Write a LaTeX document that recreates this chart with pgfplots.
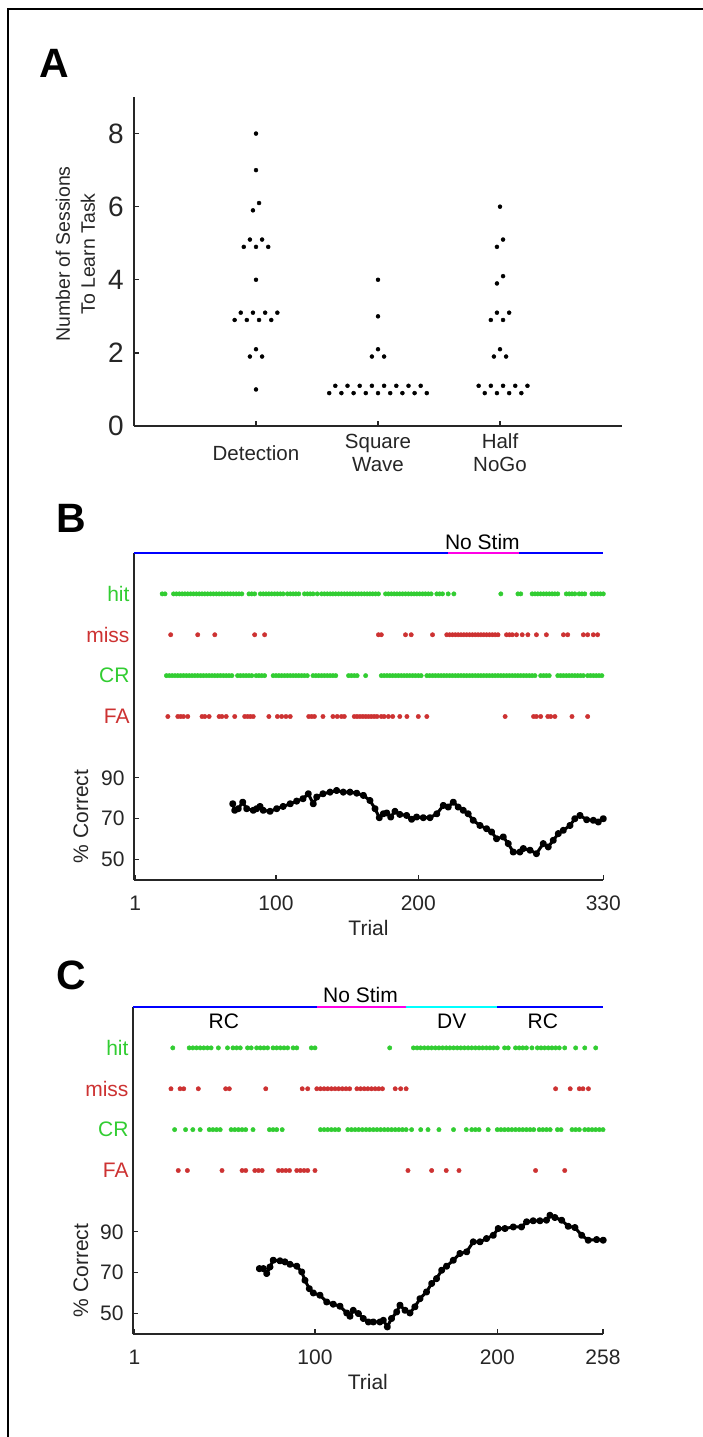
\documentclass[border=0pt]{standalone}
\usepackage{fontspec}
\setmainfont{Liberation Sans}
\usepackage{pgfplots}
\pgfplotsset{compat=1.18}
\definecolor{axgray}{RGB}{38,38,38}
\definecolor{hitgreen}{RGB}{50,205,50}
\definecolor{missred}{RGB}{205,50,50}
\definecolor{nsmag}{RGB}{255,0,230}
\definecolor{lineblue}{RGB}{0,0,255}
\definecolor{linecyan}{RGB}{0,255,255}
\newcommand\fl{\fontsize{21}{25}\selectfont}
\pgfplotsset{
  mybase/.style={
    scale only axis, axis lines=left,
    axis line style={-, axgray, line width=1.8pt},
    tick style={axgray, line width=1.3pt},
    tick align=inside, major tick length=5pt,
    ticklabel style={text=axgray},
    /pgf/number format/assume math mode=true,
    clip=false,
  },
  raster/.style={
    mybase, xmin=0, ymin=40, ymax=200, ytick={50,70,90},
    xticklabel style={font=\fl, anchor=center, inner sep=0pt, yshift=-23pt},
    yticklabel style={font=\fl, anchor=east, inner sep=0pt, xshift=-9pt},
    xlabel={Trial}, xlabel style={font=\fl, text=axgray, at={(axis description cs:0.5,0)}, anchor=center, yshift=-48pt},
  },
  dotg/.style={only marks, mark=*, mark size=2.2pt, hitgreen, mark options={draw=hitgreen, fill=hitgreen}},
  dotr/.style={only marks, mark=*, mark size=2.2pt, missred, mark options={draw=missred, fill=missred}},
  curve/.style={black, line width=3pt, line join=round, mark=*, mark size=2pt},
}
\begin{document}
\begin{tikzpicture}
\useasboundingbox (0pt,0pt) rectangle (703pt,-1437pt);
\fill[white] (0pt,0pt) rectangle (703pt,-1437pt);
\draw[line width=1.2pt, black] (8pt,-1437pt) -- (8pt,-9pt) -- (703pt,-9pt);

% ---------------- Panel A ----------------
\node[font=\fontsize{41}{41}\selectfont\bfseries] at (54pt,-63pt) {A};
\begin{axis}[mybase, at={(134pt,-426pt)}, anchor=south west,
  width=488pt, height=329pt,
  axis line style={-, axgray, line width=1.5pt},
  xmin=0, xmax=4, ymin=0, ymax=9,
  xtick={1,2,3}, xticklabels={Detection,{Square\\Wave},{Half\\NoGo}},
  xticklabel style={font=\fontsize{20.5}{23}\selectfont, align=center, anchor=center, inner sep=0pt, yshift=-27pt},
  ytick={0,2,4,6,8},
  yticklabel style={font=\fontsize{28}{30}\selectfont, anchor=east, inner sep=0pt, xshift=-10pt},
]
\addplot[only marks, mark=*, mark size=2pt, black] coordinates {
(1,8)(1,7)(0.975,5.9)(1.025,6.1)(0.9,4.9)(0.95,5.1)(1,4.9)(1.05,5.1)(1.1,4.9)(1,4)
(0.825,2.9)(0.875,3.1)(0.925,2.9)(0.975,3.1)(1.025,2.9)(1.075,3.1)(1.125,2.9)(1.175,3.1)
(0.95,1.9)(1,2.1)(1.05,1.9)(1,1)};
\addplot[only marks, mark=*, mark size=2pt, black] coordinates {
(2,4)(2,3)(1.95,1.9)(2,2.1)(2.05,1.9)
(1.6,0.9)(1.65,1.1)(1.7,0.9)(1.75,1.1)(1.8,0.9)(1.85,1.1)(1.9,0.9)(1.95,1.1)(2,0.9)
(2.05,1.1)(2.1,0.9)(2.15,1.1)(2.2,0.9)(2.25,1.1)(2.3,0.9)(2.35,1.1)(2.4,0.9)};
\addplot[only marks, mark=*, mark size=2pt, black] coordinates {
(3,6)(2.975,4.9)(3.025,5.1)(2.975,3.9)(3.025,4.1)
(2.925,2.9)(2.975,3.1)(3.025,2.9)(3.075,3.1)(2.95,1.9)(3,2.1)(3.05,1.9)
(2.825,1.1)(2.875,0.9)(2.925,1.1)(2.975,0.9)(3.025,1.1)(3.075,0.9)(3.125,1.1)(3.175,0.9)(3.225,1.1)};
\end{axis}
\node[font=\fontsize{19.5}{25}\selectfont, text=axgray, rotate=90, align=center] at (75.5pt,-254pt) {Number of Sessions\\To Learn Task};

% ---------------- Panel B ----------------
\node[font=\fontsize{41}{41}\selectfont\bfseries] at (71.5pt,-518pt) {B};
\begin{axis}[raster, at={(133.7pt,-880pt)}, anchor=south west,
  width=469.6pt, height=327pt, xmax=330, xtick={1,100,200,330}]
\addplot[lineblue, line width=2pt] coordinates {(0,200)(221,200)};
\addplot[nsmag, line width=2pt] coordinates {(221,200)(271,200)};
\addplot[lineblue, line width=2pt] coordinates {(271,200)(330,200)};
\node[font=\fl, anchor=south, inner sep=0pt, yshift=3.5pt] at (axis cs:245,200) {No Stim};
\node[font=\fl, text=hitgreen, anchor=east, inner sep=0pt, xshift=-4pt] at (axis cs:0,180) {hit};
\node[font=\fl, text=missred, anchor=east, inner sep=0pt, xshift=-4pt] at (axis cs:0,160) {miss};
\node[font=\fl, text=hitgreen, anchor=east, inner sep=0pt, xshift=-4pt] at (axis cs:0,140) {CR};
\node[font=\fl, text=missred, anchor=east, inner sep=0pt, xshift=-4pt] at (axis cs:0,120) {FA};
% hit
\addplot[dotg] coordinates {
(20,180)(22,180)(28,180)(30,180)(32,180)(34,180)(36,180)(38,180)(40,180)(42,180)(44,180)(46,180)(48,180)(50,180)(52,180)(54,180)(56,180)(58,180)(60,180)(62,180)(64,180)(66,180)(68,180)(70,180)(72,180)(74,180)(76,180)(81,180)(83,180)(85,180)(89,180)(91,180)(93,180)(95,180)(97,180)(99,180)(101,180)(103,180)(105,180)(108,180)(110,180)(112,180)(114,180)(116,180)(120,180)(122,180)(124,180)(126,180)(129,180)(132,180)(134,180)(136,180)(138,180)(140,180)(142,180)(144,180)(146,180)(148,180)(150,180)(152,180)(154,180)(156,180)(158,180)(160,180)(162,180)(164,180)(166,180)(168,180)(170,180)(172,180)(177,180)(179,180)(181,180)(183,180)(185,180)(187,180)(189,180)(191,180)(193,180)(195,180)(197,180)(199,180)(201,180)(203,180)(205,180)(207,180)(209,180)(213,180)(215,180)(217,180)(221,180)(225,180)(258,180)(270,180)(272,180)(280,180)(282,180)(284,180)(286,180)(288,180)(290,180)(292,180)(294,180)(296,180)(298,180)(304,180)(306,180)(308,180)(310,180)(313,180)(315,180)(317,180)(322,180)(324,180)(326,180)(328,180)(330,180)};
% miss
\addplot[dotr] coordinates {
(26,160)(45,160)(57,160)(85,160)(92,160)(172,160)(174,160)(191,160)(195,160)(210,160)(220,160)(222,160)(224,160)(226,160)(228,160)(230,160)(232,160)(234,160)(236,160)(238,160)(240,160)(242,160)(244,160)(246,160)(248,160)(250,160)(252,160)(254,160)(256,160)(262,160)(264,160)(266,160)(269,160)(273,160)(277,160)(283,160)(290,160)(302,160)(305,160)(316,160)(319,160)(323,160)(326,160)};
% CR
\addplot[dotg] coordinates {
(23,140)(25,140)(27,140)(29,140)(31,140)(33,140)(35,140)(37,140)(39,140)(41,140)(43,140)(45,140)(47,140)(49,140)(51,140)(53,140)(55,140)(57,140)(59,140)(61,140)(63,140)(65,140)(67,140)(69,140)(73,140)(75,140)(77,140)(79,140)(81,140)(83,140)(86,140)(88,140)(90,140)(92,140)(98,140)(100,140)(102,140)(104,140)(106,140)(108,140)(110,140)(112,140)(114,140)(116,140)(118,140)(120,140)(122,140)(126,140)(128,140)(130,140)(132,140)(134,140)(136,140)(138,140)(140,140)(142,140)(151,140)(153,140)(155,140)(157,140)(163,140)(174,140)(176,140)(178,140)(180,140)(182,140)(184,140)(186,140)(188,140)(190,140)(192,140)(194,140)(196,140)(198,140)(200,140)(202,140)(206,140)(208,140)(210,140)(212,140)(214,140)(216,140)(218,140)(220,140)(222,140)(224,140)(226,140)(228,140)(230,140)(232,140)(234,140)(236,140)(238,140)(240,140)(242,140)(244,140)(246,140)(248,140)(250,140)(252,140)(254,140)(256,140)(258,140)(260,140)(262,140)(264,140)(266,140)(268,140)(270,140)(272,140)(274,140)(276,140)(278,140)(280,140)(282,140)(286,140)(288,140)(290,140)(292,140)(298,140)(300,140)(302,140)(304,140)(306,140)(308,140)(310,140)(312,140)(314,140)(316,140)(319,140)(321,140)(323,140)(325,140)(327,140)(329,140)};
% FA
\addplot[dotr] coordinates {
(24,120)(31,120)(33,120)(35,120)(38,120)(48,120)(50,120)(53,120)(60,120)(62,120)(65,120)(71,120)(78,120)(80,120)(82,120)(84,120)(95,120)(101,120)(104,120)(107,120)(110,120)(123,120)(125,120)(127,120)(133,120)(140,120)(143,120)(146,120)(148,120)(155,120)(157,120)(159,120)(161,120)(163,120)(165,120)(167,120)(169,120)(171,120)(174,120)(176,120)(179,120)(182,120)(187,120)(192,120)(200,120)(206,120)(261,120)(281,120)(283,120)(286,120)(291,120)(293,120)(296,120)(308,120)(319,120)};
% percent correct
\addplot[curve] coordinates {
(69.6,77.3)(71,74.1)(73.5,74.9)(76.6,78.1)(79.4,74.9)(84,74.1)(86.4,74.9)(88.8,76)(91,74.1)(95.8,73.6)(100.5,74.9)(105,76)(110,77.3)(114.5,78.6)(119,79.8)(122.7,82.2)(126.2,77.3)(128.6,80.6)(133,82.2)(138,83)(142.6,83.8)(147.3,83)(152,83)(156.7,82.5)(161.4,81.4)(166,78.9)(169.6,74.9)(172.6,70.5)(175.4,72.4)(177.8,72.8)(180.6,70.8)(183.6,73.6)(187,72.1)(191.8,71.6)(195.3,69.7)(198.8,70.8)(203.5,70.5)(208.2,70.5)(213,72.4)(217.6,76.5)(221,75.7)(224.6,78.1)(228,75.7)(231.6,74.1)(235,72.4)(238.6,69.2)(243.3,66.7)(248,65.1)(251.5,63.5)(255,60.2)(259.7,61.1)(263.2,57.8)(266.7,53.7)(271.4,53.7)(273.8,55.4)(278.5,54.6)(283,52.9)(287.8,57.8)(291.3,56.2)(294.8,59.4)(298.4,62.7)(301.9,64.3)(306.6,66.7)(310,70)(313.6,71.6)(318.3,69.5)(323,69.2)(326.5,68.4)(330,70)};
\end{axis}
\node[font=\fl, text=axgray, rotate=90] at (81pt,-816.5pt) {\% Correct};

% ---------------- Panel C ----------------
\node[font=\fontsize{41}{41}\selectfont\bfseries] at (71.5pt,-975pt) {C};
\begin{axis}[raster, at={(132.7pt,-1334pt)}, anchor=south west,
  width=470.3pt, height=327pt, xmax=258, xtick={1,100,200,258}]
\addplot[lineblue, line width=2pt] coordinates {(0,200)(101,200)};
\addplot[nsmag, line width=2pt] coordinates {(101,200)(150,200)};
\addplot[linecyan, line width=2pt] coordinates {(150,200)(200,200)};
\addplot[lineblue, line width=2pt] coordinates {(200,200)(258,200)};
\node[font=\fl, anchor=south, inner sep=0pt, yshift=4.5pt] at (axis cs:125,200) {No Stim};
\node[font=\fl, anchor=north, inner sep=0pt, yshift=-6.5pt] at (axis cs:50,200) {RC};
\node[font=\fl, anchor=north, inner sep=0pt, yshift=-6.5pt] at (axis cs:175,200) {DV};
\node[font=\fl, anchor=north, inner sep=0pt, yshift=-6.5pt] at (axis cs:225,200) {RC};
\node[font=\fl, text=hitgreen, anchor=east, inner sep=0pt, xshift=-4pt] at (axis cs:0,180) {hit};
\node[font=\fl, text=missred, anchor=east, inner sep=0pt, xshift=-4pt] at (axis cs:0,160) {miss};
\node[font=\fl, text=hitgreen, anchor=east, inner sep=0pt, xshift=-4pt] at (axis cs:0,140) {CR};
\node[font=\fl, text=missred, anchor=east, inner sep=0pt, xshift=-4pt] at (axis cs:0,120) {FA};
% hit
\addplot[dotg] coordinates {
(22,180)(31,180)(33,180)(35,180)(37,180)(39,180)(41,180)(43,180)(47,180)(52,180)(55,180)(57,180)(59,180)(63,180)(65,180)(68,180)(70,180)(72,180)(74,180)(77,180)(79,180)(81,180)(83,180)(85,180)(88,180)(90,180)(98,180)(100,180)(141,180)(154,180)(156,180)(158,180)(160,180)(162,180)(164,180)(166,180)(168,180)(170,180)(172,180)(174,180)(176,180)(178,180)(180,180)(182,180)(184,180)(186,180)(188,180)(190,180)(192,180)(194,180)(196,180)(198,180)(200,180)(204,180)(206,180)(210,180)(212,180)(214,180)(216,180)(219,180)(222,180)(224,180)(226,180)(228,180)(230,180)(232,180)(234,180)(237,180)(243,180)(248,180)(254,180)};
% miss
\addplot[dotr] coordinates {
(21,160)(26,160)(28,160)(36,160)(51,160)(53,160)(73,160)(93,160)(96,160)(101,160)(103,160)(105,160)(107,160)(109,160)(111,160)(113,160)(115,160)(117,160)(119,160)(123,160)(125,160)(127,160)(129,160)(131,160)(133,160)(135,160)(137,160)(144,160)(147,160)(150,160)(232,160)(240,160)(245,160)(247,160)(250,160)};
% CR
\addplot[dotg] coordinates {
(23,140)(29,140)(33,140)(37,140)(42,140)(44,140)(46,140)(48,140)(54,140)(56,140)(58,140)(60,140)(62,140)(66,140)(75,140)(77,140)(79,140)(82,140)(103,140)(105,140)(107,140)(109,140)(111,140)(113,140)(118,140)(120,140)(122,140)(124,140)(126,140)(128,140)(130,140)(132,140)(134,140)(136,140)(138,140)(140,140)(142,140)(144,140)(146,140)(148,140)(150,140)(153,140)(158,140)(162,140)(168,140)(176,140)(183,140)(186,140)(188,140)(190,140)(195,140)(200,140)(202,140)(204,140)(206,140)(208,140)(210,140)(212,140)(214,140)(216,140)(218,140)(220,140)(223,140)(225,140)(227,140)(229,140)(233,140)(235,140)(241,140)(243,140)(245,140)(248,140)(250,140)(252,140)(254,140)(256,140)(258,140)};
% FA
\addplot[dotr] coordinates {
(25,120)(30,120)(49,120)(60,120)(62,120)(67,120)(69,120)(71,120)(80,120)(82,120)(84,120)(86,120)(90,120)(92,120)(94,120)(96,120)(100,120)(151,120)(164,120)(172,120)(179,120)(221,120)(237,120)};
% percent correct
\addplot[curve] coordinates {
(69.5,72)(71.7,72)(73.5,69.6)(75.3,72.8)(77.1,76.1)(80.8,75.8)(83.5,75.3)(86.3,74.1)(90,73.2)(92.7,70.4)(94.5,66.3)(96.9,62.2)(99.1,60.1)(102.7,59)(106.4,55.7)(110,54.6)(113.7,53.6)(117.4,50.3)(119.2,48.7)(121,51.6)(123.8,50)(126.5,47.6)(129.3,45.9)(132,45.9)(135.6,45.9)(137.5,46.7)(139.7,43.5)(142,47.6)(144.8,50.8)(146.6,54.1)(149.4,51.6)(152.1,50.3)(154.8,53.3)(157.6,57.3)(161.2,60.6)(164,64.7)(166.7,67.1)(169.5,71.2)(172.2,73.2)(175.9,76.1)(179.5,79.4)(183.2,80.2)(186.8,85.1)(190.5,85.1)(194.1,86.7)(197.8,88.3)(200.5,91.6)(204.2,91.6)(208.8,92.4)(213.3,92.4)(216.1,94.9)(219.7,95.4)(223.4,95.4)(227,95.7)(228.9,98.1)(231.6,97)(235.3,95.7)(238.9,92.7)(242.6,92.1)(246.3,88.3)(249.9,85.9)(254.5,86.2)(258.1,85.9)};
\end{axis}
\node[font=\fl, text=axgray, rotate=90] at (81pt,-1270.5pt) {\% Correct};
\end{tikzpicture}
\end{document}
